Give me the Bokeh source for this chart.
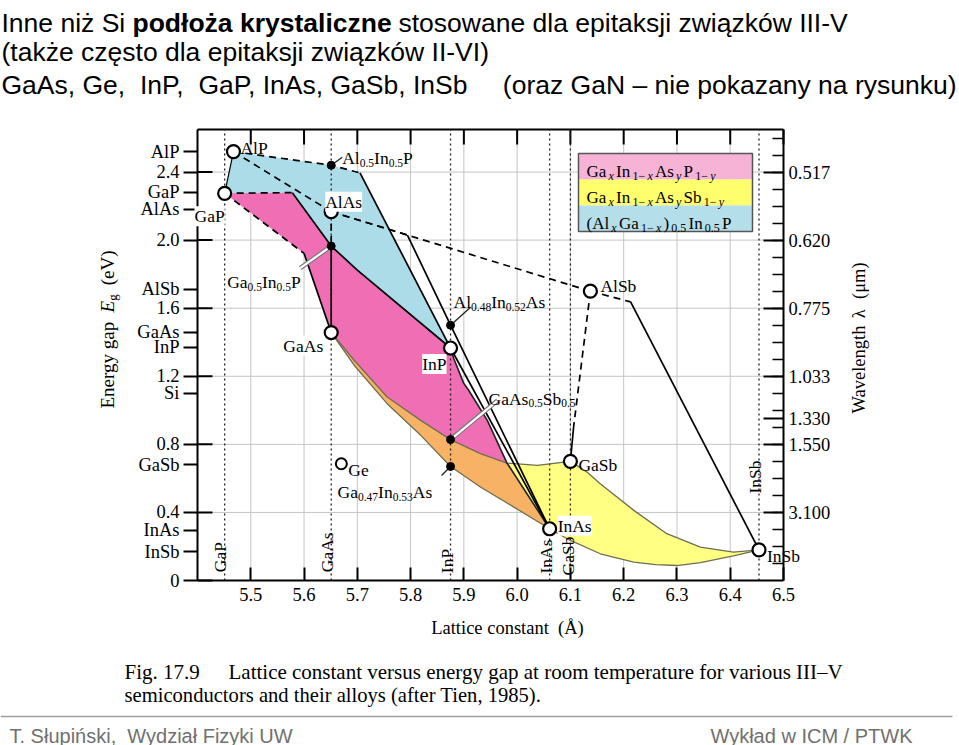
import math
from bokeh.plotting import figure
from bokeh.models import Range1d, LinearAxis, FixedTicker, Label
from bokeh.embed import file_html
from bokeh.resources import INLINE

# ============================ data ============================
# binary compounds: lattice constant (Å), energy gap (eV)
bin_names = ["AlP", "GaP", "AlAs", "GaAs", "InP", "AlSb", "GaSb", "InAs", "InSb"]
bin_a = [5.4675, 5.451, 5.651, 5.651, 5.875, 6.1375, 6.100, 6.061, 6.454]
bin_eg = [2.520, 2.275, 2.167, 1.457, 1.366, 1.700, 0.700, 0.304, 0.180]

ge_a = [5.670]
ge_eg = [0.686]

alloy_a = [5.651, 5.651, 5.875, 5.875, 5.875]
alloy_eg = [2.440, 1.965, 1.500, 0.828, 0.670]

sub_names = ["GaP", "GaAs", "InP", "InAs", "GaSb", "InSb"]
sub_a = [5.451, 5.651, 5.875, 6.061, 6.100, 6.454]

# ternary lines
alp_inp_a = [5.4675, 5.651, 5.705, 5.875]
alp_inp_eg = [2.520, 2.440, 2.395, 1.366]
gap_inp_a = [5.451, 5.578, 5.651, 5.700, 5.875]
gap_inp_eg = [2.275, 2.279, 1.965, 1.824, 1.366]
gap_gaas_a = [5.451, 5.600, 5.651]
gap_gaas_eg = [2.275, 1.922, 1.457]
alp_gap_a = [5.4675, 5.451]
alp_gap_eg = [2.520, 2.275]
alp_alas_a = [5.4675, 5.651]
alp_alas_eg = [2.520, 2.167]
alas_gaas_a = [5.651, 5.651, 5.651]
alas_gaas_eg = [2.167, 1.965, 1.457]
alas_alsb_a = [5.651, 6.1375]
alas_alsb_eg = [2.167, 1.700]
alas_inas_a = [5.651, 5.794, 5.875, 6.061]
alas_inas_eg = [2.167, 2.030, 1.500, 0.304]
inp_inas_line_a = [5.875, 6.061]
inp_inas_line_eg = [1.366, 0.304]
alsb_insb_a = [6.1375, 6.213, 6.454]
alsb_insb_eg = [1.700, 1.637, 0.180]
alsb_gasb_a = [6.1375, 6.106, 6.100]
alsb_gasb_eg = [1.700, 0.902, 0.700]

# curved boundaries
gaas_gasb_a = [5.651, 5.694, 5.756, 5.819, 5.875, 5.931, 5.981, 6.038, 6.100]
gaas_gasb_eg = [1.457, 1.294, 1.078, 0.941, 0.828, 0.745, 0.690, 0.676, 0.700]
gaas_inas_a = [5.651, 5.694, 5.756, 5.819, 5.875, 5.931, 5.994, 6.061]
gaas_inas_eg = [1.457, 1.265, 1.039, 0.853, 0.670, 0.549, 0.431, 0.304]
gasb_insb_a = [6.100, 6.130, 6.156, 6.219, 6.281, 6.344, 6.406, 6.454]
gasb_insb_eg = [0.700, 0.640, 0.569, 0.412, 0.275, 0.196, 0.167, 0.180]
inas_insb_a = [6.061, 6.094, 6.156, 6.219, 6.260, 6.300, 6.344, 6.406, 6.454]
inas_insb_eg = [0.304, 0.245, 0.157, 0.108, 0.093, 0.088, 0.105, 0.145, 0.180]
inp_inas_a = [5.875, 5.881, 5.900, 5.909, 5.944, 5.981, 6.061]
inp_inas_eg = [1.366, 1.304, 1.157, 1.118, 0.941, 0.690, 0.304]

# axes
x_ticks = [5.5, 5.6, 5.7, 5.8, 5.9, 6.0, 6.1, 6.2, 6.3, 6.4, 6.5]
x_tick_labels = ["5.5", "5.6", "5.7", "5.8", "5.9", "6.0", "6.1", "6.2", "6.3", "6.4", "6.5"]
eg_ticks = [0.0, 0.4, 0.8, 1.2, 1.6, 2.0, 2.4]
eg_tick_labels = ["0", "0.4", "0.8", "1.2", "1.6", "2.0", "2.4"]
mat_tick_names = ["AlP", "GaP", "AlAs", "AlSb", "GaAs", "InP", "Si", "GaSb", "InAs", "InSb"]
mat_tick_eg = [2.52, 2.28, 2.18, 1.71, 1.46, 1.37, 1.10, 0.68, 0.294, 0.17]
wl_labels = ["0.517", "0.620", "0.775", "1.033", "1.330", "1.550", "3.100"]
wl_eg = [2.4, 2.0, 1.6, 1.2, 0.95, 0.8, 0.4]
wl_minor_eg = [0.1, 0.2, 0.3, 0.4, 0.5, 0.6, 0.7, 0.8, 0.9, 1.0, 1.1, 1.2, 1.3,
               1.4, 1.5, 1.6, 1.7, 1.8, 1.9, 2.0, 2.1, 2.2, 2.3, 2.4, 2.5, 2.6]

# ============================ layout ============================
W, H = 959, 745
FL, FR, FT, FB = 197, 783, 129, 580          # plot box, canvas pixels
X0, X1, Y0, Y1 = 5.4, 6.5, 0.0, 2.65          # plot box, data units
SX = (FR - FL) / (X1 - X0)
SY = (FB - FT) / (Y1 - Y0)
SERIF = "Liberation Serif"
SANS = "Liberation Sans"
NB = "\u00a0"

PINK, BLUE, YELLOW, ORANGE = "#F06EB4", "#ABDCE8", "#FFFF84", "#F8B266"
EDGE = "#6e6e50"


def dx(px):
    return X0 + (px - FL) / SX


def dy(py):
    return Y0 + (FB - py) / SY


p = figure(width=W, height=H, x_range=Range1d(dx(0), dx(W)), y_range=Range1d(dy(H), dy(0)),
           output_backend="svg", toolbar_location=None, title=None,
           min_border_left=0, min_border_right=0, min_border_top=0, min_border_bottom=0,
           background_fill_color="white", border_fill_color="white")
p.outline_line_color = None
p.grid.visible = False

# grid lines inside the plot box
gx = x_ticks[:-1]
gy = eg_ticks[1:]
p.segment(x0=gx, y0=[Y0] * len(gx), x1=gx, y1=[Y1] * len(gx), line_color="#c4c4c4", line_width=1)
p.segment(x0=[X0] * len(gy), y0=gy, x1=[X1] * len(gy), y1=gy, line_color="#c4c4c4", line_width=1)

AX = dict(axis_line_width=2, major_tick_line_width=2, axis_line_color="black",
          major_label_text_font=SERIF, major_label_text_font_size="18.5px",
          major_label_text_color="black")

# bottom axis
xb = p.xaxis[0]
xb.fixed_location = Y0
xb.bounds = (X0, X1)
xb.ticker = FixedTicker(ticks=x_ticks)
xb.major_label_overrides = dict(zip(x_ticks, x_tick_labels))
xb.major_tick_in = 13
xb.major_tick_out = 0
xb.minor_tick_line_color = None
xb.major_label_standoff = 7
for k, v in AX.items():
    setattr(xb, k, v)

# left axis (numeric + material ticks)
yl = p.yaxis[0]
yl.fixed_location = X0
yl.bounds = (Y0, Y1)
left_ticks = eg_ticks + mat_tick_eg
left_labels = eg_tick_labels + mat_tick_names
yl.ticker = FixedTicker(ticks=left_ticks)
yl.major_label_overrides = dict(zip(left_ticks, left_labels))
yl.major_tick_in = 0
yl.major_tick_out = 14
yl.minor_tick_line_color = None
yl.major_label_standoff = 4
for k, v in AX.items():
    setattr(yl, k, v)

# right axis (wavelength)
right = LinearAxis(fixed_location=X1, bounds=(Y0, Y1),
                   ticker=FixedTicker(ticks=wl_eg, minor_ticks=wl_minor_eg),
                   major_label_overrides=dict(zip(wl_eg, wl_labels)),
                   major_tick_in=20, major_tick_out=0, minor_tick_in=11, minor_tick_out=0,
                   minor_tick_line_width=1.5, major_label_standoff=5, **AX)
p.add_layout(right, "right")

# top edge of the box and its ticks
p.segment(x0=[X0], y0=[Y1], x1=[X1], y1=[Y1], line_color="black", line_width=2)
p.segment(x0=x_ticks, y0=[Y1] * len(x_ticks), x1=x_ticks, y1=[Y1 - 15 / SY] * len(x_ticks),
          line_color="black", line_width=2)
# inward part of the numeric energy ticks
p.segment(x0=[X0] * len(eg_ticks), y0=eg_ticks, x1=[X0 + 15 / SX] * len(eg_ticks), y1=eg_ticks,
          line_color="black", line_width=2)

# ============================ regions ============================
blue_x = alp_inp_a + gap_inp_a[::-1]
blue_y = alp_inp_eg + gap_inp_eg[::-1]
pink_x = gap_inp_a + inp_inas_a[1:] + gaas_inas_a[::-1][1:] + gap_gaas_a[::-1][1:]
pink_y = gap_inp_eg + inp_inas_eg[1:] + gaas_inas_eg[::-1][1:] + gap_gaas_eg[::-1][1:]
yel_x = gaas_gasb_a + gasb_insb_a[1:] + inas_insb_a[::-1][1:] + gaas_inas_a[::-1][1:]
yel_y = gaas_gasb_eg + gasb_insb_eg[1:] + inas_insb_eg[::-1][1:] + gaas_inas_eg[::-1][1:]
ora_x = gaas_gasb_a[:7] + inp_inas_a[6:] + gaas_inas_a[::-1][1:]
ora_y = gaas_gasb_eg[:7] + inp_inas_eg[6:] + gaas_inas_eg[::-1][1:]

p.patch(blue_x, blue_y, fill_color=BLUE, line_color=None)
p.patch(pink_x, pink_y, fill_color=PINK, line_color=None)
p.patch(yel_x, yel_y, fill_color=YELLOW, line_color=None)
p.patch(ora_x, ora_y, fill_color=ORANGE, line_color=None)

# dotted substrate lines
p.segment(x0=sub_a, y0=[Y0] * len(sub_a), x1=sub_a, y1=[Y1] * len(sub_a),
          line_color="#222222", line_width=1.3, line_dash="2 3")

# region edges
for xa, ya in [(gaas_gasb_a, gaas_gasb_eg), (gaas_inas_a, gaas_inas_eg),
               (gasb_insb_a, gasb_insb_eg), (inas_insb_a, inas_insb_eg)]:
    p.line(xa, ya, line_color=EDGE, line_width=1.3)
p.line(inp_inas_a, inp_inas_eg, line_color="#222222", line_width=1.6)


def draw(xa, ya, ndash=0, width=1.7):
    if ndash > 0:
        p.line(xa[:ndash + 1], ya[:ndash + 1], line_color="black", line_width=width,
               line_dash="7 5")
    if ndash < len(xa) - 1:
        p.line(xa[ndash:], ya[ndash:], line_color="black", line_width=width)


draw(alp_inp_a, alp_inp_eg, 2)
draw(gap_inp_a, gap_inp_eg, 1)
draw(gap_gaas_a, gap_gaas_eg, 1)
draw(alp_gap_a, alp_gap_eg, 0, 1.2)
draw(alp_alas_a, alp_alas_eg, 1)
draw(alas_gaas_a, alas_gaas_eg, 1)
draw(alas_alsb_a, alas_alsb_eg, 1)
draw(alas_inas_a, alas_inas_eg, 1)
draw(inp_inas_line_a, inp_inas_line_eg, 0)
draw(alsb_insb_a, alsb_insb_eg, 1)
draw(alsb_gasb_a, alsb_gasb_eg, 1)


# pointer lines (pixel offsets from the dot)
def pointer(a, eg, ddx, ddy, white=False):
    xs0, ys0, xs1, ys1 = [a], [eg], [a + ddx / SX], [eg + ddy / SY]
    if white:
        p.segment(x0=xs0, y0=ys0, x1=xs1, y1=ys1, line_color="#777777", line_width=4.5)
        p.segment(x0=xs0, y0=ys0, x1=xs1, y1=ys1, line_color="white", line_width=2.2)
    else:
        p.segment(x0=xs0, y0=ys0, x1=xs1, y1=ys1, line_color="#222222", line_width=1.3)


pointer(alloy_a[0], alloy_eg[0], 11, 8)
pointer(alloy_a[1], alloy_eg[1], -31, -22, True)
pointer(alloy_a[2], alloy_eg[2], 20, 18)
pointer(alloy_a[3], alloy_eg[3], 47, 39, True)
pointer(alloy_a[4], alloy_eg[4], -9, -9)

# points
p.scatter(alloy_a, alloy_eg, marker="circle", size=8, fill_color="black", line_color="black")
p.scatter(bin_a, bin_eg, marker="circle", size=13, fill_color="white",
          line_color="black", line_width=2.2)
p.scatter(ge_a, ge_eg, marker="circle", size=11, fill_color="white",
          line_color="black", line_width=2)

# ============================ texts ============================
TIMES = {' ': 250, '(': 333, ')': 333, '.': 250, ',': 250, '-': 333, '\u2212': 564,
         'A': 722, 'G': 722, 'I': 333, 'P': 556, 'S': 556, 'E': 611,
         'a': 444, 'b': 500, 'e': 444, 'g': 500, 'l': 278, 'n': 500, 'r': 333,
         's': 389, 'y': 500, 'x': 500, 'V': 722}
TIMES_I = {'x': 444, 'y': 444, 'E': 611, 'g': 500}


def tw(s, size, italic=False):
    tot = 0
    for ch in s:
        if ch.isdigit():
            tot += 500
        elif italic and ch in TIMES_I:
            tot += TIMES_I[ch]
        else:
            tot += TIMES.get(ch, 500)
    return tot * size / 1000.0


def rich(x, y, parts, dxp=0.0, dyp=0.0, size=17.5, sub=11.5, angle=0.0, gap=0.0):
    ca, sa = math.cos(angle), math.sin(angle)
    off = 0.0
    for txt, st in parts:
        if st == "gap":
            off += txt
            continue
        is_sub = st.startswith("s")
        it = st.endswith("i")
        fs = sub if is_sub else size
        drop = 0.28 * size if is_sub else 0.0
        ox = dxp + off * ca + drop * sa
        oy = dyp + off * sa - drop * ca
        p.add_layout(Label(x=x, y=y, x_offset=ox, y_offset=oy, text=txt,
                           text_font=SERIF, text_font_size=f"{fs}px",
                           text_font_style="italic" if it else "normal",
                           text_align="left", text_baseline="alphabetic",
                           angle=angle, text_color="black"))
        off += tw(txt, fs, it) + gap


# binary point labels: (dx px, dy px, align, white background)
bin_label_layout = [(7, 4, "left", False), (0, -23, "right", True), (-6, 10, "left", True),
                    (-8, -13, "right", True), (-4, -16, "right", True), (10, 5, "left", False),
                    (8, -4, "left", False), (8, 3, "left", True), (8, -6, "left", False)]
for name, a, eg, (ox, oy, al, bg) in zip(bin_names, bin_a, bin_eg, bin_label_layout):
    lab = Label(x=a, y=eg, x_offset=ox, y_offset=oy, text=name, text_font=SERIF,
                text_font_size="17.5px", text_align=al, text_baseline="alphabetic",
                text_color="black")
    if bg:
        lab.background_fill_color = "white"
    p.add_layout(lab)
p.add_layout(Label(x=ge_a[0], y=ge_eg[0], x_offset=7, y_offset=-6, text="Ge", text_font=SERIF,
                   text_font_size="17.5px", text_baseline="alphabetic", text_color="black"))

alloy_parts = [
    [("Al", "n"), ("0.5", "s"), ("In", "n"), ("0.5", "s"), ("P", "n")],
    [("Ga", "n"), ("0.5", "s"), ("In", "n"), ("0.5", "s"), ("P", "n")],
    [("Al", "n"), ("0.48", "s"), ("In", "n"), ("0.52", "s"), ("As", "n")],
    [("GaAs", "n"), ("0.5", "s"), ("Sb", "n"), ("0.5", "s")],
    [("Ga", "n"), ("0.47", "s"), ("In", "n"), ("0.53", "s"), ("As", "n")],
]
alloy_label_layout = [(11, 7), (-104, -36), (3, 23), (38, 41), (-113, -26)]
for a, eg, parts, (ox, oy) in zip(alloy_a, alloy_eg, alloy_parts, alloy_label_layout):
    rich(a, eg, parts, ox, oy)

# substrate labels (vertical)
sub_label_layout = [(-4.6, 8.3), (-4, 8.3), (-3.3, 7.3), (-3.3, 7), (-2.3, 5), (-4, 87)]
for name, a, (ox, oy) in zip(sub_names, sub_a, sub_label_layout):
    p.add_layout(Label(x=a, y=Y0, x_offset=ox, y_offset=oy, text=name, text_font=SERIF,
                       text_font_size="17.5px", text_align="left", text_baseline="alphabetic",
                       angle=math.pi / 2, text_color="black"))

# legend
LX0, LX1 = 578, 752
LY = [153, 179, 205, 231]
leg_colors = ["#F6B3D5", "#FFFF6E", "#B4DEEA"]
leg_parts = [
    [("Ga", "n"), ("x", "si"), ("In", "n"), ("1\u2212", "s"), ("x", "si"), ("As", "n"),
     ("y", "si"), ("P", "n"), ("1\u2212", "s"), ("y", "si")],
    [("Ga", "n"), ("x", "si"), ("In", "n"), ("1\u2212", "s"), ("x", "si"), ("As", "n"),
     ("y", "si"), ("Sb", "n"), ("1\u2212", "s"), ("y", "si")],
    [("(Al", "n"), ("x", "si"), ("Ga", "n"), ("1\u2212", "s"), ("x", "si"), (")", "n"),
     ("0.5", "s"), ("In", "n"), ("0.5", "s"), ("P", "n")],
]
for i in range(3):
    p.quad(left=[dx(LX0)], right=[dx(LX1)], top=[dy(LY[i])], bottom=[dy(LY[i + 1])],
           fill_color=leg_colors[i], line_color=None)
    rich(dx(586), dy(LY[i] + 18), leg_parts[i], size=17, sub=12, gap=2.2)
p.quad(left=[dx(LX0)], right=[dx(LX1)], top=[dy(LY[0])], bottom=[dy(LY[3])],
       fill_color=None, line_color="#555555", line_width=1.5)

# axis titles
p.add_layout(Label(x=dx(507), y=dy(627), text="Lattice constant" + NB + " (Å)", text_font=SERIF,
                   text_font_size="18.5px", text_align="center", text_baseline="alphabetic",
                   text_color="black"))
rich(dx(106.5), dy(408), [("Energy gap", "n"), (9, "gap"), ("E", "i"), ("g", "s"), (9, "gap"),
                          ("(eV)", "n")], size=19, sub=13, angle=math.pi / 2)
rich(dx(858), dy(413), [("Wavelength", "n"), (10, "gap"), ("\u03bb", "n"), (10, "gap"),
                        ("(\u03bcm)", "n")], size=18.5, angle=math.pi / 2)


# slide texts
def slide_text(px, py, text, size=26.5, style="normal", color="black", align="left", font=SANS):
    p.add_layout(Label(x=dx(px), y=dy(py), text=text, text_font=font,
                       text_font_size=f"{size}px", text_font_style=style, text_align=align,
                       text_baseline="alphabetic", text_color=color))


slide_text(1, 22, "Inne niż Si")
slide_text(132, 22, "podłoża krystaliczne", style="bold")
slide_text(398, 22, "stosowane dla epitaksji związków III-V")
slide_text(1, 51, "(także często dla epitaksji związków II-VI)")
slide_text(1, 84, "GaAs, Ge," + NB + " InP," + NB + " GaP, InAs, GaSb, InSb")
slide_text(956, 84, "(oraz GaN – nie pokazany na rysunku)", align="right")

slide_text(124, 671, "Fig. 17.9", size=21, font=SERIF)
slide_text(228, 671, "Lattice constant versus energy gap at room temperature for various III–V",
           size=21, font=SERIF)
slide_text(124, 694, "semiconductors and their alloys (after Tien, 1985).", size=20.6, font=SERIF)

p.segment(x0=[dx(0)], y0=[dy(716)], x1=[dx(952)], y1=[dy(716)], line_color="#a0a0a0",
          line_width=1.5)
slide_text(9, 735, "T. Słupiński," + NB + " Wydział Fizyki UW", size=20, color="#707070")
slide_text(912, 735, "Wykład w ICM / PTWK", size=20, color="#707070", align="right")

open("out.html", "w").write(file_html(p, INLINE))
